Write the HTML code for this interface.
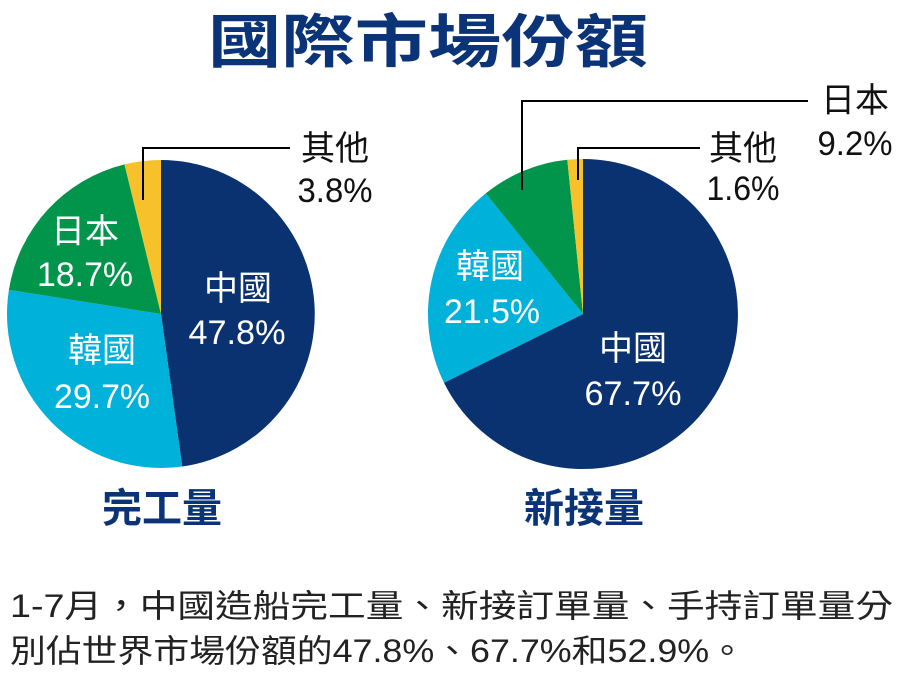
<!DOCTYPE html>
<html><head><meta charset="utf-8"><style>
html,body{margin:0;padding:0;background:#fff;width:907px;height:675px;overflow:hidden}
svg text{font-family:"Liberation Sans","Noto Sans CJK TC",sans-serif}
</style></head><body>
<svg width="907" height="675" viewBox="0 0 907 675" xmlns="http://www.w3.org/2000/svg">
<text x="428" y="62" text-anchor="middle" font-size="58" font-weight="bold" fill="#0b3478" textLength="440" lengthAdjust="spacingAndGlyphs">國際市場份額</text>
<path d="M161,314 L161,160 A154,154 0 0 1 182.2,466.5 Z" fill="#0a3270"/>
<path d="M161,314 L182.2,466.5 A154,154 0 0 1 8.9,289.9 Z" fill="#00b1da"/>
<path d="M161,314 L8.9,289.9 A154,154 0 0 1 124.5,164.4 Z" fill="#00954b"/>
<path d="M161,314 L124.5,164.4 A154,154 0 0 1 161,160 Z" fill="#f6c12b"/>
<path d="M583,314 L583,159 A155,155 0 1 1 444.0,382.7 Z" fill="#0a3270"/>
<path d="M583,314 L444.0,382.7 A155,155 0 0 1 485.7,193.4 Z" fill="#00b1da"/>
<path d="M583,314 L485.7,193.4 A155,155 0 0 1 567.3,159.8 Z" fill="#00954b"/>
<path d="M583,314 L567.3,159.8 A155,155 0 0 1 583,159 Z" fill="#f6c12b"/>
<polyline points="143,200 143,148 290,148" fill="none" stroke="#000" stroke-width="2"/>
<polyline points="522,190 522,101 808,101" fill="none" stroke="#000" stroke-width="2"/>
<polyline points="578,180 578,148 700,148" fill="none" stroke="#000" stroke-width="2"/>
<g font-size="34" fill="#fff" text-anchor="middle" lengthAdjust="spacingAndGlyphs">
<text x="238" y="300">中國</text><text x="237" y="344" textLength="97" lengthAdjust="spacingAndGlyphs">47.8%</text>
<text x="102" y="362">韓國</text><text x="102" y="408" textLength="96" lengthAdjust="spacingAndGlyphs">29.7%</text>
<text x="85" y="243">日本</text><text x="85" y="286" textLength="96" lengthAdjust="spacingAndGlyphs">18.7%</text>
<text x="490" y="278">韓國</text><text x="492" y="323" textLength="96" lengthAdjust="spacingAndGlyphs">21.5%</text>
<text x="633" y="360">中國</text><text x="633" y="405" textLength="97" lengthAdjust="spacingAndGlyphs">67.7%</text>
</g>
<g font-size="34" fill="#111" text-anchor="middle">
<text x="335" y="160">其他</text><text x="335" y="202" textLength="75" lengthAdjust="spacingAndGlyphs">3.8%</text>
<text x="743" y="160">其他</text><text x="743" y="200" textLength="73" lengthAdjust="spacingAndGlyphs">1.6%</text>
<text x="855" y="112">日本</text><text x="855" y="155" textLength="75" lengthAdjust="spacingAndGlyphs">9.2%</text>
</g>
<text x="162" y="522" text-anchor="middle" font-size="40" font-weight="bold" fill="#0b3478">完工量</text>
<text x="584" y="522" text-anchor="middle" font-size="40" font-weight="bold" fill="#0b3478">新接量</text>
<text x="10" y="617" font-size="32" fill="#222" textLength="883" lengthAdjust="spacingAndGlyphs">1-7月，中國造船完工量、新接訂單量、手持訂單量分</text>
<text x="10" y="662" font-size="32" fill="#222" textLength="735" lengthAdjust="spacingAndGlyphs">別佔世界市場份額的47.8%、67.7%和52.9%。</text>
</svg>
</body></html>
